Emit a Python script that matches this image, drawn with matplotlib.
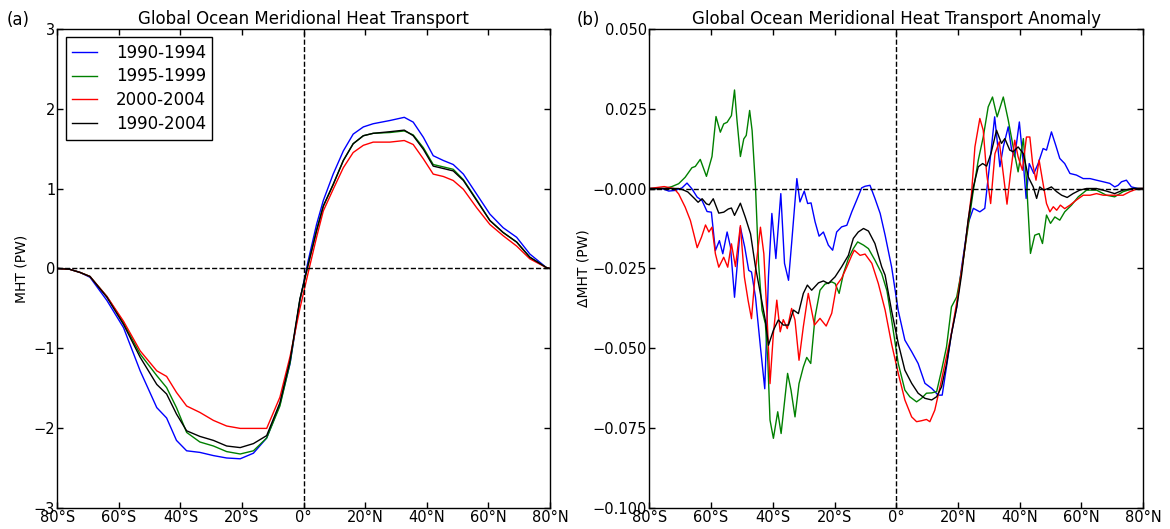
import numpy as np
import matplotlib
matplotlib.use('Agg')
import matplotlib.pyplot as plt
from matplotlib.ticker import FuncFormatter

# ---- panel (a): meridional heat transport (PW) ----
lat_a = [-80, -76, -72.6, -69.4, -63.9, -58.5, -53.1, -47.7, -44.5, -41.3, -38,
         -33.7, -29.3, -25, -20.6, -16.3, -12, -7.7, -4.4, -1.2, 1.5, 4.2, 6.4,
         9.6, 12.9, 16.1, 19.4, 22.6, 28, 32.7, 35.6, 38.9, 42.1, 45.4, 48.6,
         51.9, 56.2, 60.5, 64.8, 69.2, 73.5, 78.9, 80]
mht_9094 = [0, -0.01, -0.05, -0.11, -0.40, -0.74, -1.28, -1.74, -1.87, -2.15, -2.28,
            -2.30, -2.34, -2.37, -2.38, -2.31, -2.12, -1.70, -1.19, -0.40, 0.10, 0.55, 0.85,
            1.18, 1.47, 1.68, 1.77, 1.81, 1.85, 1.89, 1.83, 1.64, 1.41, 1.35, 1.30,
            1.18, 0.93, 0.68, 0.51, 0.39, 0.18, 0.01, 0]
mht_9599 = [0, -0.01, -0.05, -0.10, -0.35, -0.68, -1.07, -1.34, -1.49, -1.74, -2.05,
            -2.17, -2.22, -2.29, -2.32, -2.28, -2.12, -1.72, -1.18, -0.39, 0.05, 0.48, 0.78,
            1.05, 1.35, 1.56, 1.66, 1.69, 1.70, 1.72, 1.67, 1.51, 1.30, 1.27, 1.24,
            1.11, 0.86, 0.60, 0.45, 0.33, 0.14, 0.01, 0]
mht_0004 = [0, -0.01, -0.05, -0.10, -0.35, -0.66, -1.03, -1.28, -1.35, -1.55, -1.72,
            -1.80, -1.90, -1.97, -2.00, -2.00, -2.00, -1.61, -1.10, -0.50, -0.05, 0.39, 0.72,
            0.99, 1.26, 1.45, 1.54, 1.58, 1.58, 1.60, 1.55, 1.37, 1.18, 1.15, 1.10,
            0.99, 0.76, 0.55, 0.41, 0.28, 0.12, 0.01, 0]
mht_9004 = [0, -0.01, -0.05, -0.10, -0.36, -0.70, -1.11, -1.45, -1.57, -1.82, -2.03,
            -2.10, -2.15, -2.22, -2.24, -2.19, -2.09, -1.68, -1.15, -0.38, 0.05, 0.47, 0.78,
            1.05, 1.35, 1.56, 1.66, 1.69, 1.71, 1.73, 1.66, 1.49, 1.28, 1.25, 1.22,
            1.10, 0.85, 0.60, 0.45, 0.33, 0.14, 0.01, 0]

# ---- panel (b): anomaly relative to 1990-2004 (10^-3 PW) ----
lat_b_blue = [-80, -76, -73.7, -71.6, -69.4, -67.8, -66.2, -64.5, -62.9, -61.3, -59.9,
              -58.6, -57.3, -56.2, -54.8, -53.7, -52.4, -50.5, -49.1, -47.8, -46.9, -45.6,
              -44, -42.6, -41.4, -40.3, -39.0, -37.4, -36.2, -34.9, -33.9, -32.2, -31.2,
              -29.8, -28.7, -27.6, -26.3, -25, -23.6, -22, -20.6, -19.3, -17.7, -16,
              -14.4, -12.8, -11.2, -10.1, -8.5, -6.9, -5.2, -3.6, -1.5, 0.66, 2.8, 5.0,
              7.1, 9.3, 11.5, 13.6, 14.9, 16.3, 17.9, 19.6, 21.2, 23.3, 25, 27.1, 28.7,
              30.3, 31.9, 33.6, 34.7, 36.3, 37.4, 38.4, 39.9, 41.2, 42.1, 43.1, 44.6,
              46, 47.6, 48.7, 50.3, 51.7, 53, 54.6, 56.3, 58.4, 60.6, 62.8, 64.9, 67.1,
              69.2, 70.8, 71.9, 73, 74.6, 76.2, 78.4, 80]
dmht_blue = [0, 0, -0.8, -0.6, 0.2, 1.7, -0.1, -2.7, -3.8, -7.2, -7.4,
             -19.4, -16.3, -20.4, -13.6, -18.3, -34, -12.1, -18.3, -25.6, -26.1, -34,
             -49.6, -62.6, -27.6, -7.8, -21.9, -1.6, -23.4, -28.7, -17.2, 3.1, -4.2,
             -0.8, -4.7, -4.5, -10.4, -14.9, -13.6, -17.7, -19.3, -13.6, -12, -11.5,
             -7.3, -3.6, 0.2, 0.7, 1.0, -3.1, -7.8, -14.6, -24.5, -38.2, -47.4, -51,
             -54.7, -60.9, -62.5, -64.6, -64.6, -55.7, -45.3, -37, -24.5, -10.9, -6.2, -7.3, -6.2,
             7.8, 22.4, 6.8, 13, 19.3, 12, 9.9, 20.8, 7.8, -3.1, 7.8, 4.7,
             7.8, 12.5, 12, 17.7, 13.5, 9.4, 7.8, 4.7, 4.2, 3.1, 3.1, 2.6, 2.1,
             1.6, 0.5, 1, 2.1, 2.6, 0.5, 0, 0]

lat_b_green = [-80, -75, -72.7, -70.5, -68.4, -66.2, -65.1, -63.5, -61.5, -59.7, -58.4,
               -57, -55.9, -54.8, -53.4, -52.4, -51.6, -50.5, -49.4, -48.6, -47.5, -46.7,
               -45.6, -44.6, -43.5, -42.4, -41.6, -40.9, -39.8, -38.4, -37.3, -35.2, -34.1,
               -32.8, -31.5, -30.1, -29, -27.7, -26.3, -24.7, -23.1, -20.9, -19.8, -18.5,
               -17.1, -15.5, -13.9, -12.5, -10.6, -9, -6.9, -4.7, -3.0, -1.5, 0.66, 2.8,
               4.4, 6.6, 8.2, 9.8, 11.5, 13.1, 14.7, 16.3, 17.9, 19.6, 21.2, 23.3, 25,
               26.6, 28.2, 29.8, 31.2, 32.7, 34.7, 36.3, 37.9, 39.5, 41.2, 42.2, 43.5,
               44.9, 46.3, 47.4, 48.7, 50, 51.4, 53, 54.6, 56.8, 59, 61.7, 64.9, 68.1,
               70.8, 73.5, 76.8, 80]
dmht_green = [0, 0, 0.6, 1.5, 3.5, 6.5, 6.9, 9.1, 3.8, 10, 22.5,
              17.6, 20.2, 20.7, 22.8, 30.8, 21.3, 10, 15.5, 16.6, 24.4, 18.1,
              0.4, -23.5, -38, -42.3, -54, -72.4, -78.1, -69.8, -76.6, -57.8, -63,
              -71.4, -61, -55.8, -52.8, -54.7, -40.1, -31.8, -29.9, -29.2, -29.7, -32.8,
              -26.6, -21.9, -18.8, -16.7, -17.7, -18.8, -22.4, -26.6, -32, -41, -54.7, -63,
              -65.1, -66.7, -65.6, -64, -63.9, -63.5, -56.8, -49.5, -37, -33.9, -25.5, -12, -0.5,
              8.9, 16.1, 25.5, 28.6, 22.4, 28.6, 21.4, 13, 5.2, 15.6, 2.6, -20.3,
              -14.6, -14.1, -17.2, -8.3, -10.9, -8.9, -9.9, -7.3, -5.2, -2.6, -0.5, -0.5, -2.1,
              -2.6, -1, 0, 0]

lat_b_red = [-80, -75.2, -72, -70.5, -68.4, -66.7, -65.6, -64.5, -63.1, -61.8, -60.7,
             -59.7, -58.6, -57.5, -55.9, -54.6, -53.4, -52.1, -50.5, -49.2, -48, -46.9,
             -45.6, -44, -42.9, -41.8, -40.9, -39.8, -38.7, -37.6, -36.6, -35.3, -33.9,
             -32.8, -31.5, -30.1, -28.5, -26.5, -24.7, -22.7, -20.9, -19.3, -17.7, -16,
             -14.4, -13.6, -11.7, -10.1, -7.9, -5.8, -3.6, -1.5, 0.66, 2.8, 5, 6.6, 8.2,
             9.8, 10.9, 12.5, 14.2, 15.8, 17.9, 20.1, 22.3, 24.4, 25.5, 27.1, 28.2, 29.3,
             30.6, 32, 33.4, 34.7, 35.9, 37, 38.4, 39.5, 40.9, 42.2, 43.3, 44.2, 45.3,
             46.3, 47.4, 48.7, 49.8, 50.9, 52, 53.2, 54.6, 56.3, 58.4, 60.6, 62.8, 64.9,
             67.1, 69.2, 71.4, 73.5, 75.7, 78.4, 80]
dmht_red = [0, 0.6, 0, -1.7, -5.8, -10, -14.2, -18.5, -15.2, -11.4, -13.6,
            -12.1, -20.4, -24.6, -21.5, -24.6, -17.3, -24.4, -11.6, -27.7, -35, -40.7,
            -25.6, -12.1, -20.4, -41.3, -61, -45.3, -34.9, -44.8, -41, -43.8, -37.5,
            -41.1, -53.7, -43.2, -32.8, -42.7, -40.6, -43, -39, -30.2, -28.1, -24.5,
            -20.9, -19.3, -20.9, -20.5, -23.4, -29.7, -38, -48.6, -57.8, -66.1, -71.4, -72.9, -72.6,
            -72.2, -72.9, -69.3, -62, -54.7, -45.3, -32.8, -18.2, -1.6, 13, 21.9, 18.2, 4.7,
            -4.7, 10.9, 14.6, 4.5, -4.9, 4.5, 15.1, 9.9, 5.7, 16.1, 16.1, 7.8, 2.6,
            8.9, 2.6, -4.7, -7.3, -5.7, -6.8, -5.2, -6.3, -5.2, -3.6, -2.1, -2.1, -1.6,
            -2.1, -2.1, -2.1, -2.1, -1, 0, 0]

lat_b_black = [-80, -70.5, -69.1, -67.5, -65.3, -64.2, -62.9, -61.5, -60.6, -59.3, -57.5,
               -55.9, -54.4, -53.4, -52.4, -50.5, -48.9, -47.2, -45.6, -44, -42.4, -41.4,
               -39.8, -38.2, -36.6, -34.9, -33.3, -31.7, -30.1, -28.8, -27.4, -25.2, -23.6,
               -22, -19.8, -17.7, -15.5, -13.9, -12.3, -10.6, -9, -6.9, -4.7, -3.6, -1.5,
               0.66, 2.8, 5, 7.1, 9.3, 11.5, 13.1, 14.7, 16.3, 17.9, 19.6, 21.2, 23.3, 25,
               26.6, 28, 29.3, 30.7, 32.5, 34.1, 35.2, 36.8, 37.9, 39.5, 41.2, 42.8, 44.4,
               45.5, 46.5, 47.8, 49.2, 50.3, 52, 53.6, 55.4, 57.3, 59.5, 61.7, 64.9, 68.1,
               70.8, 73.5, 76.8, 80]
dmht_black = [0, 0, -0.4, -1.1, -3.2, -4.3, -3.2, -4.8, -5.1, -3.2, -7.7,
              -7.4, -6.4, -6.1, -8.4, -4.6, -9, -14.2, -24.6, -32.9, -41.3, -49,
              -44.3, -41.1, -42.7, -42.7, -38, -39.1, -32.8, -30.2, -31.8, -29.5, -28.9,
              -29.7, -27.6, -24.5, -20.9, -15.6, -13.6, -12.5, -13.3, -17.2, -24.5, -27.1, -38.2,
              -48.4, -56.8, -60.9, -64, -65.6, -66.1, -65.1, -62, -54.9, -45.5, -37.2, -26.8, -9.9, 0.5,
              6.8, 7.8, 7, 10.9, 18.2, 14.1, 15.6, 12, 11.5, 13, 10.9, 3.6, 0.5,
              -3.1, 0.5, -0.5, 0, 0.5, -1, -2.1, -2.8, -1.6, -0.5, 0, 0, -0.8,
              -1.6, -0.5, 0, 0]

periods = ['1990-1994', '1995-1999', '2000-2004', '1990-2004']
colors = ['b', 'g', 'r', 'k']
lat_ticks = [-80, -60, -40, -20, 0, 20, 40, 60, 80]
lat_labels = ['80°S', '60°S', '40°S', '20°S', '0°', '20°N', '40°N', '60°N', '80°N']

plt.rcParams['font.family'] = 'DejaVu Sans'

fig = plt.figure(figsize=(11.7, 5.29), dpi=100)
fig.patch.set_facecolor('white')
ax1 = fig.add_axes([0.049, 0.039, 0.421, 0.907])
ax2 = fig.add_axes([0.555, 0.039, 0.422, 0.907])

for s, c, lab in zip([mht_9094, mht_9599, mht_0004, mht_9004], colors, periods):
    ax1.plot(lat_a, s, color=c, lw=1.0, label=lab)

lats_b = [lat_b_blue, lat_b_green, lat_b_red, lat_b_black]
vals_b = [dmht_blue, dmht_green, dmht_red, dmht_black]
for la, v, c in zip(lats_b, vals_b, colors):
    ax2.plot(la, np.array(v) * 1e-3, color=c, lw=1.0)

for ax in (ax1, ax2):
    ax.axhline(0, color='k', ls='--', lw=1.0)
    ax.axvline(0, color='k', ls='--', lw=1.0)
    ax.set_xlim(-80, 80)
    ax.set_xticks(lat_ticks)
    ax.set_xticklabels(lat_labels)
    ax.tick_params(direction='in', length=4, width=1, top=True, right=True,
                   labelsize=10.5, pad=1.5)
    for sp in ax.spines.values():
        sp.set_linewidth(1.0)

ax1.set_ylim(-3, 3)
ax1.set_yticks(range(-3, 4))
ax1.set_ylabel('MHT (PW)', fontsize=10)
ax1.yaxis.set_label_coords(-0.059, 0.5)
ax1.set_title('Global Ocean Meridional Heat Transport', fontsize=12, pad=3)
ax1.legend(loc='upper left', fontsize=12, fancybox=False, edgecolor='k',
           framealpha=1, handlelength=1.5, handletextpad=1.1, borderpad=0.4,
           labelspacing=0.35)

ax2.set_ylim(-0.1, 0.05)
ax2.set_yticks(np.arange(-0.1, 0.0501, 0.025))
ax2.yaxis.set_major_formatter(FuncFormatter(lambda v, p: ('%.3f' % v).replace('-', '\u2212')))
ax2.set_ylabel('\u0394MHT (PW)', fontsize=10)
ax2.yaxis.set_label_coords(-0.119, 0.5)
ax2.set_title('Global Ocean Meridional Heat Transport Anomaly', fontsize=12, pad=3)

fig.text(0.006, 0.962, '(a)', fontsize=12, va='center')
fig.text(0.493, 0.962, '(b)', fontsize=12, va='center')

fig.savefig('out.png', dpi=100, facecolor='white')
